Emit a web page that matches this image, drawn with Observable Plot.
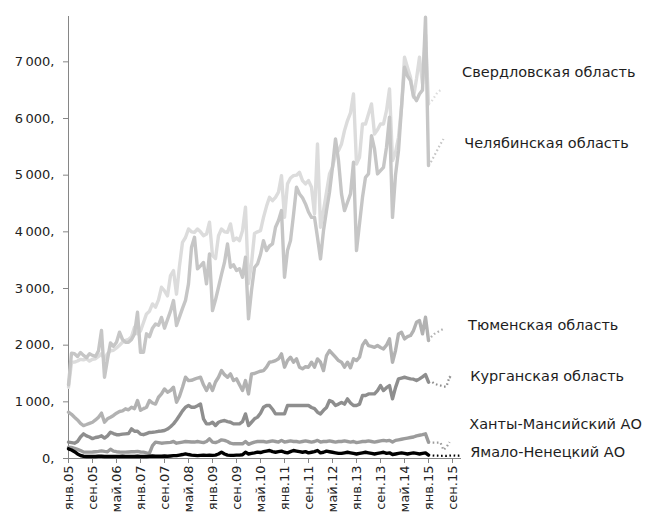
<!DOCTYPE html>
<html><head><meta charset="utf-8">
<script src="https://cdn.jsdelivr.net/npm/d3@7"></script>
<script src="https://cdn.jsdelivr.net/npm/@observablehq/plot@0.6"></script>
<style>body{margin:0;background:#fff}</style>
</head><body><div id="chart"></div>
<script>
// Month index 0 = янв.2005 ... 131 = дек.2015; index >= 120 drawn dotted (2015)
const lastSolid = 120;

const tickMonths = [0,8,16,24,32,40,48,56,64,72,80,88,96,104,112,120,128];
const tickLabels = ["янв.05","сен.05","май.06","янв.07","сен.07","май.08","янв.09","сен.09","май.10","янв.11","сен.11","май.12","янв.13","сен.13","май.14","янв.15","сен.15"];
const yTicks = [0,1000,2000,3000,4000,5000,6000,7000];

const seriesNames = ["Свердловская область","Челябинская область","Тюменская область","Курганская область","Ханты-Мансийский АО","Ямало-Ненецкий АО"];

const sverdlovsk = [
1258,1699,1700,1720,1750,1740,1760,1720,1750,1760,1800,1850,
1750,1850,1900,1910,1950,2000,2050,2085,2100,2150,2316,2200,
2250,2400,2552,2600,2728,2670,2800,3022,2960,2870,3228,3316,
2900,3400,3815,3900,4051,4000,3990,4051,4000,3933,3960,4169,
3580,3530,3930,4051,4000,3990,4140,3845,3890,3845,4020,4433,
3087,3440,3970,4000,4020,4256,4450,4609,4550,4609,4700,4992,
4256,4846,4950,4992,5000,5050,4904,4846,4904,4786,4316,5551,
4080,4375,4700,5022,5139,5375,5433,5551,5786,5963,6100,6433,
5198,5316,5904,5904,6080,6257,5727,5800,5904,5904,6139,6522,
5257,5400,5669,6198,7080,6900,6727,6375,6700,7080,6610,7492,
6257,6300,6380,6463,6500];

const chelyabinsk = [
1300,1858,1850,1800,1870,1820,1780,1850,1820,1800,1900,2258,
1434,1750,2040,1980,2050,2228,2100,2050,2050,2100,2200,2580,
1875,1875,2200,2150,2300,2375,2350,2490,2300,2450,2600,2787,
2346,2500,2650,2790,3081,3727,3904,3346,3400,3460,3081,3611,
2611,2800,3022,3250,3460,3787,3375,3420,3316,3350,3198,3551,
2464,2963,3370,3434,3600,3845,3669,3750,3787,4080,4200,4375,
3198,3669,3845,4300,4786,4669,4600,4493,4350,4256,4256,3900,
3522,4022,4375,4700,5139,5639,5257,4669,4375,4522,4669,5228,
3669,4140,4609,4963,5022,5698,5463,5022,5080,5139,5492,6022,
4256,5000,5433,6198,6904,6750,6669,6400,6316,6433,6500,7786,
5169,5250,5350,5450,5550,5639];

const tyumen = [
817,780,728,680,620,582,600,620,640,680,728,800,
640,700,728,760,800,830,840,877,860,905,880,1023,
850,880,905,1023,980,960,1081,1140,1228,1170,1200,1258,
993,1100,1258,1434,1375,1380,1400,1420,1434,1300,1199,1317,
1199,1350,1434,1552,1480,1434,1493,1375,1405,1300,1199,1375,
1140,1493,1500,1522,1540,1552,1611,1699,1710,1728,1760,1846,
1611,1728,1787,1699,1758,1611,1582,1620,1611,1699,1611,1758,
1699,1552,1817,1905,1846,1787,1728,1700,1611,1700,1600,1760,
1728,1787,2000,2081,1993,1980,1963,1993,1960,1934,2000,2111,
1699,1905,2199,2228,2111,2150,2170,2258,2405,2434,2199,2493,
2081,2150,2200,2230,2260,2287];

const kurgan = [
288,280,270,300,380,435,400,380,350,370,380,400,
360,400,464,440,420,420,430,435,440,523,480,480,
430,420,440,460,464,470,480,485,494,520,560,611,
680,758,840,905,935,905,905,930,960,700,611,611,
640,582,640,660,670,650,640,611,611,611,650,787,
582,640,700,730,800,905,935,935,870,787,787,787,
787,935,935,935,935,935,935,935,935,900,880,817,
787,850,900,1023,1000,935,960,990,960,1052,980,935,
935,960,1111,1111,1140,1140,1140,1199,1288,1199,1250,1288,
1052,1250,1405,1420,1434,1420,1405,1400,1375,1405,1440,1482,
1346,1360,1320,1300,1288,1270,1270,1440,1405];

const khmao = [
200,195,180,160,140,115,112,112,115,120,125,135,
125,120,164,130,120,115,112,112,115,118,120,125,
115,112,100,95,229,288,280,270,275,280,285,300,
270,280,290,300,295,290,290,300,290,280,300,347,
290,280,300,329,320,300,270,259,259,260,259,300,
250,270,290,300,300,300,290,300,310,300,290,320,
290,300,310,300,300,290,300,310,300,290,300,320,
290,300,300,310,300,290,300,300,310,300,290,300,
280,290,300,300,310,300,290,300,310,320,310,320,
290,320,330,340,350,360,370,380,400,410,420,435,
288,280,280,280,280,150,200,290];

const yanao = [
170,150,120,80,53,40,35,35,35,35,40,40,
35,35,35,35,35,35,40,35,35,35,35,40,
35,35,35,40,45,40,40,40,45,40,45,50,
50,60,70,82,70,60,55,50,55,60,55,60,
55,60,80,112,80,60,55,55,60,60,65,112,
80,90,100,112,105,120,130,141,120,110,120,130,
110,100,120,141,130,120,110,120,100,110,120,141,
100,110,129,120,110,100,90,90,100,110,100,90,
80,90,100,110,100,90,80,90,100,110,90,100,
70,80,90,100,90,80,90,100,90,80,90,100,
60,55,50,50,45,50,45,50,55,50,50,55];

// label anchors (data units) for the right-hand series names
const labelMonth = [131.2,131.9,133.2,133.9,133.6,133.9];
const labelValue = [6809,5557,2346,1450,600,106];

const seriesValues = [sverdlovsk, chelyabinsk, tyumen, kurgan, khmao, yanao];
const seriesColors = ["#dcdcdc","#c6c6c6","#b2b2b2","#8e8e8e","#9b9b9b","#000000"];

const rows = seriesValues.map((vals, s) => vals.map((v, i) => ({s, name: seriesNames[s], i, v})));
const drawOrder = [0,1,2,4,3,5];

const fmtNum = d3.formatLocale({thousands: "\u2009", grouping: [3], decimal: "."}).format(",");
const fmtY = d => fmtNum(d) + ",";

const marks = [
  Plot.ruleY([0], {stroke: "#868686", strokeWidth: 1}),
  Plot.ruleX([0], {stroke: "#868686", strokeWidth: 1}),
  Plot.axisY({ticks: yTicks, tickSize: 5, tickFormat: () => "", stroke: "#868686", label: null}),
  Plot.axisY({ticks: yTicks, tickSize: 0, tickPadding: 14, tickFormat: fmtY, fill: "#222", fontSize: 13, label: null}),
  Plot.axisX({ticks: tickMonths, tickSize: 5, tickFormat: () => "", stroke: "#868686", label: null}),
  Plot.axisX({ticks: tickMonths, tickSize: 0, tickPadding: 7, tickRotate: -90,
    tickFormat: d => tickLabels[tickMonths.indexOf(d)], fill: "#222", fontSize: 13, label: null})
];

for (const s of drawOrder) {
  marks.push(Plot.line(rows[s].filter(d => d.i >= lastSolid), {
    x: "i", y: "v", stroke: seriesColors[s], strokeWidth: 2.2, strokeDasharray: "1.6,2.6", strokeLinecap: "butt"
  }));
  marks.push(Plot.line(rows[s].filter(d => d.i <= lastSolid), {
    x: "i", y: "v", stroke: seriesColors[s], strokeWidth: 3.4
  }));
}

marks.push(Plot.text(seriesNames, {
  x: (d, k) => labelMonth[k], y: (d, k) => labelValue[k], text: d => d,
  textAnchor: "start", fill: "#1e1e1e", fontSize: 14.5
}));

const chart = Plot.plot({
  width: 647, height: 517,
  marginLeft: 68, marginRight: 186, marginTop: 16, marginBottom: 59,
  x: {domain: [0, 131], axis: null},
  y: {domain: [0, 7800], axis: null},
  style: {fontFamily: "'DejaVu Sans', sans-serif", fontSize: "13px", background: "#fff", color: "#222"},
  marks
});
document.getElementById("chart").appendChild(chart);
</script></body></html>
